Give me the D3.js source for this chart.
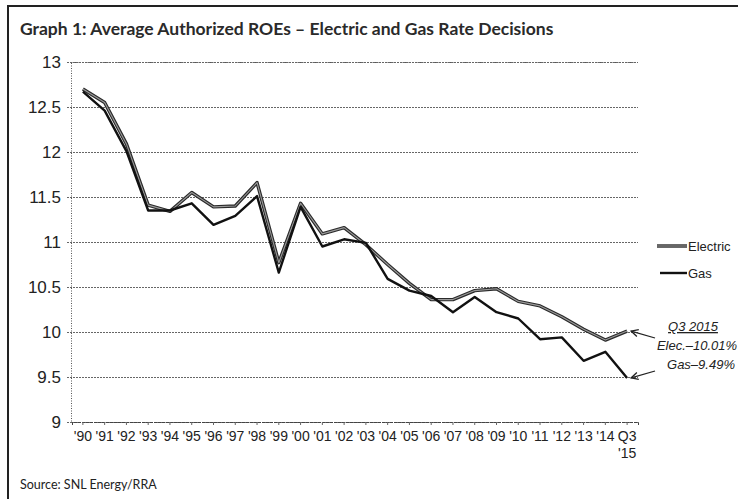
<!DOCTYPE html>
<html>
<head>
<meta charset="utf-8">
<script src="https://cdn.jsdelivr.net/npm/d3@7"></script>
<style>
  body { margin: 0; background: #fff; }
  svg { display: block; }
</style>
</head>
<body>
<div id="chart"></div>
<script>
// chart data
var years = ["'90", "'91", "'92", "'93", "'94", "'95", "'96", "'97", "'98", "'99", "'00", "'01", "'02",
  "'03", "'04", "'05", "'06", "'07", "'08", "'09", "'10", "'11", "'12", "'13", "'14", "Q3 '15"];
var electric = [12.70, 12.55, 12.09, 11.41, 11.34, 11.55, 11.39, 11.40, 11.66, 10.77, 11.43, 11.09, 11.16,
  10.97, 10.75, 10.54, 10.36, 10.36, 10.46, 10.48, 10.34, 10.29, 10.17, 10.03, 9.91, 10.01];
var gas = [12.67, 12.46, 12.01, 11.35, 11.35, 11.43, 11.19, 11.29, 11.51, 10.66, 11.39, 10.95, 11.03,
  10.99, 10.59, 10.46, 10.40, 10.22, 10.39, 10.22, 10.15, 9.92, 9.94, 9.68, 9.78, 9.49];
var yTicks = [9, 9.5, 10, 10.5, 11, 11.5, 12, 12.5, 13];

var svgWidth = 738;
var svgHeight = 499;

// plot area
var plot = { left: 71, right: 638, top: 62, bottom: 422 };

var svg = d3.select("#chart")
  .append("svg")
  .attr("width", svgWidth)
  .attr("height", svgHeight);

// frame around the whole figure (right and bottom edges run off the scan)
svg.append("rect")
  .attr("x", 8).attr("y", 6)
  .attr("width", 760).attr("height", 520)
  .attr("fill", "none")
  .attr("stroke", "#222")
  .attr("stroke-width", 2);

// title
svg.append("text")
  .attr("x", 20).attr("y", 35)
  .attr("font-family", "Lato, 'Open Sans', sans-serif")
  .attr("font-weight", 700)
  .attr("font-size", "17.5px")
  .attr("fill", "#2a2a2a")
  .text("Graph 1: Average Authorized ROEs \u2013 Electric and Gas Rate Decisions");

// scales
var xScale = d3.scaleBand()
  .domain(years)
  .range([plot.left + 1, plot.right])
  .paddingInner(0);

var yScale = d3.scaleLinear()
  .domain([9, 13])
  .range([plot.bottom, plot.top]);

var xc = function(i) { return xScale(years[i]) + xScale.bandwidth() / 2; };

// gridlines + y labels
var yAxis = d3.axisLeft(yScale)
  .tickValues(yTicks)
  .tickFormat(d3.format("~g"))
  .tickSize(-(plot.right - plot.left))
  .tickPadding(10);

var gy = svg.append("g")
  .attr("transform", `translate(${plot.left}, 0)`)
  .call(yAxis);
gy.select(".domain")
  .attr("stroke", "#555")
  .attr("stroke-dasharray", "1,1.5");
gy.selectAll(".tick line")
  .attr("stroke", "#666")
  .attr("stroke-dasharray", "2,1")
  .attr("x1", -4);
gy.selectAll(".tick text")
  .attr("font-family", "'Liberation Sans', Arial, sans-serif")
  .attr("font-size", "17px")
  .attr("fill", "#222");

// x axis
var xAxis = d3.axisBottom(xScale)
  .tickSize(3)
  .tickPadding(6)
  .tickFormat(function(d) { return d === "Q3 '15" ? "" : d; });

var gx = svg.append("g")
  .attr("transform", `translate(0, ${plot.bottom})`)
  .call(xAxis);
gx.select(".domain")
  .attr("stroke", "#444")
  .attr("stroke-dasharray", "3,1");
gx.selectAll(".tick line").attr("stroke", "#666");
gx.selectAll(".tick text")
  .attr("font-family", "'Liberation Sans', Arial, sans-serif")
  .attr("font-size", "14px")
  .attr("fill", "#222");

// two-line last label
var lastTick = gx.selectAll(".tick").filter(function(d) { return d === "Q3 '15"; });
var lastText = lastTick.select("text");
lastText.append("tspan").attr("x", 0).text("Q3");
lastText.append("tspan").attr("x", 0).attr("dy", "1.2em").text("'15");

// lines
var line = function(values) {
  return d3.line()
    .x(function(d, i) { return xc(i); })
    .y(function(d) { return yScale(d); })(values);
};

// electric: dark outline with a grey core
svg.append("path")
  .attr("d", line(electric))
  .attr("fill", "none")
  .attr("stroke", "#2a2a2a")
  .attr("stroke-width", 3.4)
  .attr("stroke-linejoin", "round");
svg.append("path")
  .attr("d", line(electric))
  .attr("fill", "none")
  .attr("stroke", "#9a9a9a")
  .attr("stroke-width", 1.1)
  .attr("stroke-linejoin", "round");

// gas: solid black
svg.append("path")
  .attr("d", line(gas))
  .attr("fill", "none")
  .attr("stroke", "#111")
  .attr("stroke-width", 2.4)
  .attr("stroke-linejoin", "round");

// legend
var legend = svg.append("g")
  .attr("font-family", "'Liberation Sans', Arial, sans-serif")
  .attr("font-size", "13px")
  .attr("fill", "#222");

legend.append("line")
  .attr("x1", 657).attr("x2", 687).attr("y1", 246).attr("y2", 246)
  .attr("stroke", "#2a2a2a").attr("stroke-width", 3.4);
legend.append("line")
  .attr("x1", 657).attr("x2", 687).attr("y1", 246).attr("y2", 246)
  .attr("stroke", "#9a9a9a").attr("stroke-width", 1.1);
legend.append("text").attr("x", 688).attr("y", 251).text("Electric");

legend.append("line")
  .attr("x1", 660).attr("x2", 687).attr("y1", 273).attr("y2", 273)
  .attr("stroke", "#111").attr("stroke-width", 2.4);
legend.append("text").attr("x", 688).attr("y", 278).text("Gas");

// Q3 2015 annotation
var note = svg.append("g")
  .attr("font-family", "'Liberation Sans', Arial, sans-serif")
  .attr("font-style", "italic")
  .attr("font-size", "13px")
  .attr("fill", "#222")
  .attr("text-anchor", "middle");

note.append("text").attr("x", 693).attr("y", 331)
  .attr("text-decoration", "underline")
  .text("Q3 2015");
note.append("text").attr("x", 697).attr("y", 350)
  .text("Elec.\u201310.01%");
note.append("text").attr("x", 701).attr("y", 369)
  .text("Gas\u20139.49%");

// arrows from the note to the last points
var last = years.length - 1;
var arrows = [
  { from: [655, 338], to: [xc(last) + 4, yScale(electric[last])] },
  { from: [655, 371], to: [xc(last) + 4, yScale(gas[last])] }
];
arrows.forEach(function(a) {
  var dx = a.to[0] - a.from[0], dy = a.to[1] - a.from[1];
  var len = Math.sqrt(dx * dx + dy * dy);
  var ux = dx / len, uy = dy / len;
  svg.append("line")
    .attr("x1", a.from[0]).attr("y1", a.from[1])
    .attr("x2", a.to[0]).attr("y2", a.to[1])
    .attr("stroke", "#222").attr("stroke-width", 1.3);
  // arrow head
  var hx = a.to[0], hy = a.to[1], s = 7;
  svg.append("path")
    .attr("d", `M${hx - s * ux - s * 0.5 * uy},${hy - s * uy + s * 0.5 * ux} L${hx},${hy} L${hx - s * ux + s * 0.5 * uy},${hy - s * uy - s * 0.5 * ux}`)
    .attr("fill", "none")
    .attr("stroke", "#222").attr("stroke-width", 1.3);
});

// source
svg.append("text")
  .attr("x", 20).attr("y", 489)
  .attr("font-family", "Lato, 'Open Sans', sans-serif")
  .attr("font-size", "12.5px")
  .attr("fill", "#222")
  .text("Source: SNL Energy/RRA");
</script>
</body>
</html>
